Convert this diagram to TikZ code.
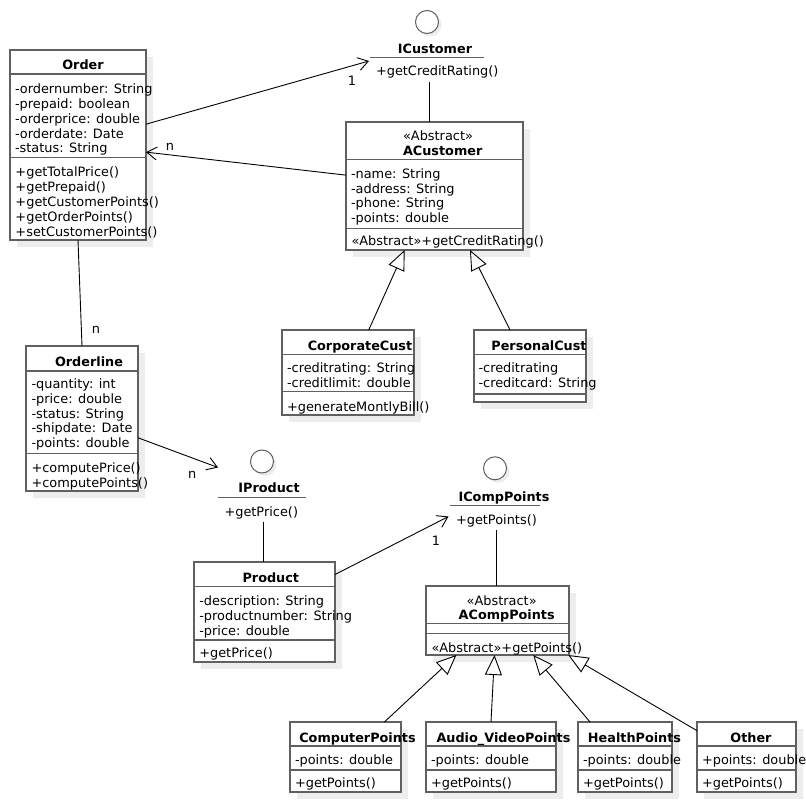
\documentclass[tikz,border=0pt]{standalone}
\usepackage{fontspec}
\setmainfont{DejaVu Sans}
\usetikzlibrary{arrows.meta,shadows}
\definecolor{boxgray}{HTML}{606060}
\definecolor{shadowgray}{HTML}{EDEDED}
\begin{document}
\begin{tikzpicture}[x=1pt,y=-1pt,
  every node/.style={font=\fontsize{12.9}{15}\selectfont, inner sep=0pt, outer sep=0pt},
  classbox/.style={draw=boxgray, line width=1.2pt, fill=white, rectangle,
    general shadow={fill=shadowgray, shadow xshift=7pt, shadow yshift=-7pt}},
  sepline/.style={draw=boxgray, line width=1.2pt},
  txt/.style={anchor=base west},
  ctr/.style={anchor=base},
  ttl/.style={anchor=base, font=\fontsize{12.8}{15}\selectfont\bfseries},
  assoc/.style={draw=black, line width=0.9pt, -{Straight Barb[length=10pt,width=13pt]}},
  gen/.style={draw=black, line width=0.9pt, -{Triangle[length=20pt,width=17pt,fill=white]}},
  plain/.style={draw=black, line width=0.9pt},
  ifcircle/.style={circle, draw=boxgray, line width=1pt, fill=white, minimum size=23pt,
    general shadow={fill=shadowgray, shadow xshift=3pt, shadow yshift=-3pt}}
]
\fill[white] (0,0) rectangle (806,802);
\useasboundingbox (0,0) rectangle (806,802);

% ---------- class boxes ----------
\node[classbox, minimum width=136pt, minimum height=190pt] (order) at (78,145) {};
\node[classbox, minimum width=177pt, minimum height=128pt] (acust) at (434.5,186) {};
\node[classbox, minimum width=132pt, minimum height=85pt] (corp) at (348,372.5) {};
\node[classbox, minimum width=112pt, minimum height=72pt] (pers) at (530,366) {};
\node[classbox, minimum width=112pt, minimum height=145pt] (oline) at (82,418.5) {};
\node[classbox, minimum width=141pt, minimum height=100pt] (prod) at (264.5,612) {};
\node[classbox, minimum width=143pt, minimum height=69pt] (acomp) at (497.5,620.5) {};
\node[classbox, minimum width=111pt, minimum height=70pt] (comp) at (345.5,757) {};
\node[classbox, minimum width=130pt, minimum height=70pt] (audio) at (491,757) {};
\node[classbox, minimum width=94pt, minimum height=70pt] (health) at (625,757) {};
\node[classbox, minimum width=99pt, minimum height=70pt] (other) at (746.5,757) {};

% separators
\draw[sepline] (order.west |- 0,74) -- (order.east |- 0,74);
\draw[sepline] (order.west |- 0,157.7) -- (order.east |- 0,157.7);
\draw[sepline] (acust.west |- 0,159.3) -- (acust.east |- 0,159.3);
\draw[sepline] (acust.west |- 0,228.3) -- (acust.east |- 0,228.3);
\draw[sepline] (corp.west |- 0,354.3) -- (corp.east |- 0,354.3);
\draw[sepline] (corp.west |- 0,391.7) -- (corp.east |- 0,391.7);
\draw[sepline] (pers.west |- 0,354.3) -- (pers.east |- 0,354.3);
\draw[sepline] (pers.west |- 0,394) -- (pers.east |- 0,394);
\draw[sepline] (oline.west |- 0,371) -- (oline.east |- 0,371);
\draw[sepline] (oline.west |- 0,453.3) -- (oline.east |- 0,453.3);
\draw[sepline] (prod.west |- 0,586.7) -- (prod.east |- 0,586.7);
\draw[sepline] (prod.west |- 0,640) -- (prod.east |- 0,640);
\draw[sepline] (acomp.west |- 0,623.3) -- (acomp.east |- 0,623.3);
\draw[sepline] (acomp.west |- 0,633.3) -- (acomp.east |- 0,633.3);
\foreach \b in {comp,audio,health,other}{
  \draw[sepline] (\b.west |- 0,746) -- (\b.east |- 0,746);
  \draw[sepline] (\b.west |- 0,770) -- (\b.east |- 0,770);
}

% ---------- interfaces ----------
\node[ifcircle] (icustc) at (427,22) {};
\node[ttl] (icustt) at (435,53.5) {ICustomer};
\draw[sepline] (370,57.7) -- (484,57.7);
\node[txt] (icustm) at (376,75.5) {+getCreditRating()};

\node[ifcircle] (iprodc) at (262,461.5) {};
\node[ttl] (iprodt) at (269,492.5) {IProduct};
\draw[sepline] (218,497.5) -- (306,497.5);
\node[txt] (iprodm) at (224.5,516) {+getPrice()};

\node[ifcircle] (icompc) at (495,468.3) {};
\node[ttl] (icompt) at (504,501.2) {ICompPoints};
\draw[sepline] (450,505.7) -- (540,505.7);
\node[txt] (icompm) at (456,524.5) {+getPoints()};

% ---------- texts ----------
% Order
\node[ttl] (ordert) at (83,69.5) {Order};
\node[txt] (oa1) at (15,93.5) {-ordernumber: String};
\node[txt] (oa2) at (15,108.5) {-prepaid: boolean};
\node[txt] (oa3) at (15,123.5) {-orderprice: double};
\node[txt] (oa4) at (15,138.5) {-orderdate: Date};
\node[txt] (oa5) at (15,153) {-status: String};
\node[txt] (om1) at (15.5,176.8) {+getTotalPrice()};
\node[txt] (om2) at (15.5,191.5) {+getPrepaid()};
\node[txt] (om3) at (15.5,206.5) {+getCustomerPoints()};
\node[txt] (om4) at (15.5,221.5) {+getOrderPoints()};
\node[txt] (om5) at (15.5,236.5) {+setCustomerPoints()};

% ACustomer
\node[ctr] (acs) at (438,140.5) {«Abstract»};
\node[ttl] (act) at (442.7,155.2) {ACustomer};
\node[txt] (aca1) at (351,178.5) {-name: String};
\node[txt] (aca2) at (351,193.5) {-address: String};
\node[txt] (aca3) at (351,208) {-phone: String};
\node[txt] (aca4) at (351,222.5) {-points: double};
\node[txt] (acm1) at (351.5,245.2) {«Abstract»+getCreditRating()};

% CorporateCust
\node[ttl] (corpt) at (360,350.2) {CorporateCust};
\node[txt] (cora1) at (287,372.8) {-creditrating: String};
\node[txt] (cora2) at (287,387.8) {-creditlimit: double};
\node[txt] (corm1) at (287,411.2) {+generateMontlyBill()};

% PersonalCust
\node[ttl] (perst) at (539,350.2) {PersonalCust};
\node[txt] (pera1) at (478.5,372.8) {-creditrating};
\node[txt] (pera2) at (478.5,387.8) {-creditcard: String};

% Orderline
\node[ttl] (olt) at (89,366.2) {Orderline};
\node[txt] (ola1) at (31.5,388.8) {-quantity: int};
\node[txt] (ola2) at (31.5,403.5) {-price: double};
\node[txt] (ola3) at (31.5,418.2) {-status: String};
\node[txt] (ola4) at (31.5,432.9) {-shipdate: Date};
\node[txt] (ola5) at (31.5,447.6) {-points: double};
\node[txt] (olm1) at (31.5,472.2) {+computePrice()};
\node[txt] (olm2) at (31.5,487.5) {+computePoints()};

% Product
\node[ttl] (prodt) at (270.8,582.2) {Product};
\node[txt] (pra1) at (199.3,605.5) {-description: String};
\node[txt] (pra2) at (199.3,620.5) {-productnumber: String};
\node[txt] (pra3) at (199.3,635.5) {-price: double};
\node[txt] (prm1) at (199.3,657.2) {+getPrice()};

% ACompPoints
\node[ctr] (acps) at (501.7,605.2) {«Abstract»};
\node[ttl] (acpt) at (506.7,619.5) {ACompPoints};
\node[txt] (acpm1) at (431.5,652.8) {«Abstract»+getPoints()};

% bottom classes
\node[ttl] (compt) at (357.5,742.5) {ComputerPoints};
\node[txt] (compa) at (295,764.5) {-points: double};
\node[txt] (compm) at (295,787) {+getPoints()};
\node[ttl] (audiot) at (503.5,742.5) {Audio\_VideoPoints};
\node[txt] (audioa) at (431,764.5) {-points: double};
\node[txt] (audiom) at (431,787) {+getPoints()};
\node[ttl] (healtht) at (634.5,742.5) {HealthPoints};
\node[txt] (healtha) at (583,764.5) {-points: double};
\node[txt] (healthm) at (583,787) {+getPoints()};
\node[ttl] (othert) at (751,742.5) {Other};
\node[txt] (othera) at (702,764.5) {+points: double};
\node[txt] (otherm) at (702,787) {+getPoints()};

% ---------- connectors ----------
\coordinate (icustin) at (369,61);
\coordinate (icustb) at (429.5,82);
\coordinate (iprodin) at (218,467.5);
\coordinate (iprodb) at (263,521.5);
\coordinate (icompin) at (448.5,516.5);
\coordinate (icompb) at (496,530);

\draw[assoc] (order.17.16) -- (icustin);
\draw[assoc] (acust.173.23) -- (order.-6.71);
\draw[plain] (order.south) -- (oline.north);
\draw[assoc] (oline.-19.47) -- (iprodin);
\draw[plain] (iprodb) -- (iprodb |- prod.north);
\draw[assoc] (prod.28.14) -- (icompin);
\draw[plain] (icompb) -- (icompb |- acomp.north);
\draw[plain] (icustb) -- (icustb |- acust.north);

\draw[gen] (corp.64.8) -- (acust.-115.26);
\draw[gen] (pers.119.05) -- (acust.-61.67);
\draw[gen] (comp.42.27) -- (acomp.-140.26);
\draw[gen] (audio.north) -- (acomp.-95.79);
\draw[gen] (health.135) -- (acomp.-44.18);
\draw[gen] (other.152.29) -- (acomp.-26.73);

% multiplicities
\node[ctr] (m1) at (352,85.6) {1};
\node[ctr] (m2) at (170,150.2) {n};
\node[ctr] (m3) at (96,333.5) {n};
\node[ctr] (m4) at (192.3,478.5) {n};
\node[ctr] (m5) at (436,545.6) {1};
\end{tikzpicture}
\end{document}
